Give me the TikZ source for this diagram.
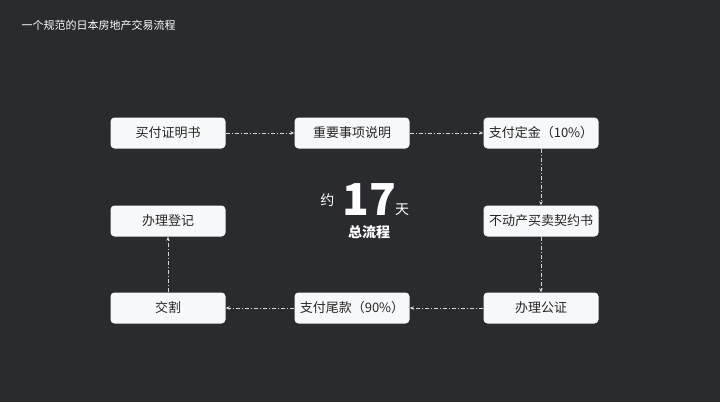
\documentclass[tikz,border=0pt]{standalone}
\usepackage{fontspec}
\setmainfont{Noto Sans CJK SC}
\usetikzlibrary{arrows.meta}
\definecolor{bg}{HTML}{2A2B2F}
\definecolor{boxc}{HTML}{F7F8FA}
\definecolor{ln}{HTML}{D8D8D8}
\tikzset{
 stepbox/.style={draw=none,fill=boxc,rounded corners=4pt,minimum width=115pt,minimum height=31pt,font=\fontsize{13}{15}\selectfont,text=black!85,inner sep=0pt},
 conn/.style={draw=ln,line width=0.8pt,dash pattern=on 4pt off 2pt on 1pt off 2pt,-{Stealth[length=4pt,width=3.5pt]}}
}
\begin{document}
\begin{tikzpicture}[x=1pt,y=-1pt]
\fill[bg] (0,0) rectangle (720,402);
\useasboundingbox (0,0) rectangle (720,402);
\node[anchor=west,text=white,font=\fontsize{11}{13}\selectfont] (title) at (18,25) {一个规范的日本房地产交易流程};
\node[stepbox] (a) at (168,133) {买付证明书};
\node[stepbox] (b) at (352,133) {重要事项说明};
\node[stepbox] (c) at (541,133) {支付定金（10\%）};
\node[stepbox] (d) at (541,221) {不动产买卖契约书};
\node[stepbox] (e) at (541,308) {办理公证};
\node[stepbox] (f) at (352,308) {支付尾款（90\%）};
\node[stepbox] (g) at (168,308) {交割};
\node[stepbox] (h) at (168,221) {办理登记};
\draw[conn] (a) -- (b);
\draw[conn] (b) -- (c);
\draw[conn] (c) -- (d);
\draw[conn] (d) -- (e);
\draw[conn] (e) -- (f);
\draw[conn] (f) -- (g);
\draw[conn] (g) -- (h);
\node[text=white,font=\fontsize{44}{44}\selectfont\bfseries,inner sep=0pt] (n) at (369,200) {17};
\node[text=white,font=\fontsize{14}{16}\selectfont,anchor=east] (yue) at (n.east-|338,209) {约};
\node[text=white,font=\fontsize{14}{16}\selectfont] (tian) at (402,210) {天};
\node[text=white,font=\fontsize{14}{16}\selectfont\bfseries] (zong) at (369,232) {总流程};
\end{tikzpicture}
\end{document}
